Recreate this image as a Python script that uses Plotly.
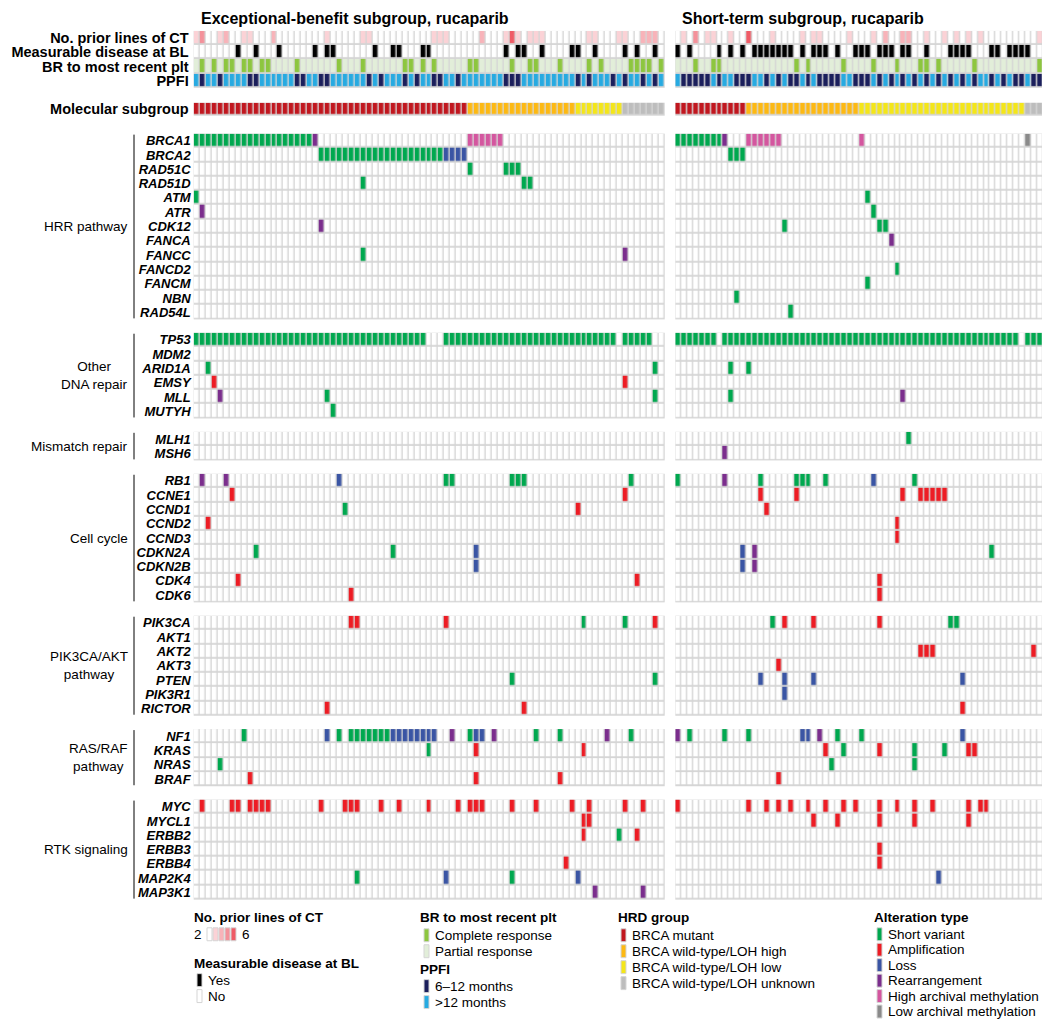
import plotly.graph_objects as go

W, H = 1050, 1019
FONT = "Liberation Sans, Arial, Helvetica, sans-serif"

# ---------------- data ----------------
N_EB = 79   # exceptional-benefit patients
N_ST = 64   # short-term patients

ANNOT_ROWS = ["No. prior lines of CT", "Measurable disease at BL",
              "BR to most recent plt", "PPFI"]

EB_PRIOR_LINES = [3, 5, 2, 2, 3, 4, 2, 2, 3, 3,
                  2, 2, 2, 4, 2, 2, 2, 2, 2, 2,
                  2, 2, 3, 2, 2, 2, 2, 2, 3, 3,
                  2, 2, 2, 2, 2, 2, 2, 2, 2, 2,
                  3, 3, 3, 2, 2, 2, 2, 2, 4, 2,
                  2, 2, 3, 6, 3, 2, 3, 3, 3, 2,
                  2, 2, 2, 2, 2, 2, 3, 3, 2, 2,
                  2, 3, 3, 2, 2, 4, 4, 4, 2]
ST_PRIOR_LINES = [2, 3, 2, 5, 2, 3, 3, 2, 2, 3,
                  2, 2, 6, 2, 2, 2, 3, 2, 2, 2,
                  2, 3, 2, 3, 3, 2, 2, 2, 2, 3,
                  2, 2, 2, 3, 2, 4, 2, 2, 4, 4,
                  2, 2, 3, 2, 2, 3, 2, 3, 2, 3,
                  2, 3, 2, 2, 2, 2, 2, 2, 2, 2,
                  2, 3, 2, 2]

# patients with measurable disease at baseline (column indices)
EB_MEASURABLE = [7, 10, 14, 20, 22, 23, 30, 33, 34, 38, 39, 52, 54, 55, 58, 63, 64, 67, 72, 74, 77]
ST_MEASURABLE = [0, 2, 7, 9, 11, 13, 14, 15, 16, 17, 18, 19, 21, 23, 24, 25, 27, 30, 31, 32,
                 34, 35, 36, 38, 39, 42, 46, 47, 48, 49, 53, 54, 56, 57, 58, 59, 62, 63]

# patients with complete response to most recent platinum (others: partial)
EB_COMPLETE = [1, 3, 5, 6, 8, 9, 11, 12, 17, 24, 28, 35, 36, 38, 40, 46, 47, 53, 56, 57,
               61, 66, 68, 73, 74, 75, 76, 78]
ST_COMPLETE = [3, 6, 7, 20, 22, 28, 33, 37, 41, 42, 44, 50, 61]

# patients with PPFI 6-12 months (others: >12 months)
EB_PPFI_6_12 = [1, 4, 9, 10, 17, 18, 21, 22, 29, 31, 35, 37, 40, 41, 44, 52, 53, 54, 64, 66,
                70, 72, 75, 77]
ST_PPFI_6_12 = [1, 2, 3, 4, 5, 7, 10, 11, 12, 15, 17, 19, 20, 22, 24, 25, 26, 27, 30, 31,
                32, 34, 36, 38, 40, 42, 44, 46, 48, 50, 53, 55, 57, 58, 60, 61, 62, 63]

# molecular subgroup runs (group, number of patients)
EB_HRD = [("BRCA mutant", 46), ("LOH high", 18), ("LOH low", 8), ("LOH unknown", 7)]
ST_HRD = [("BRCA mutant", 12), ("LOH high", 19), ("LOH low", 28), ("LOH unknown", 5)]

SECTIONS = [
    ("HRR pathway", ["BRCA1", "BRCA2", "RAD51C", "RAD51D", "ATM", "ATR", "CDK12", "FANCA",
                     "FANCC", "FANCD2", "FANCM", "NBN", "RAD54L"]),
    ("Other<br>DNA repair", ["TP53", "MDM2", "ARID1A", "EMSY", "MLL", "MUTYH"]),
    ("Mismatch repair", ["MLH1", "MSH6"]),
    ("Cell cycle", ["RB1", "CCNE1", "CCND1", "CCND2", "CCND3", "CDKN2A", "CDKN2B", "CDK4", "CDK6"]),
    ("PIK3CA/AKT<br>pathway", ["PIK3CA", "AKT1", "AKT2", "AKT3", "PTEN", "PIK3R1", "RICTOR"]),
    ("RAS/RAF<br>pathway", ["NF1", "KRAS", "NRAS", "BRAF"]),
    ("RTK signaling", ["MYC", "MYCL1", "ERBB2", "ERBB3", "ERBB4", "MAP2K4", "MAP3K1"]),
]

# alterations: gene -> list of (first column, last column, type)
EB_HRR = {
    "BRCA1": [(0, 19, "SV"), (20, 20, "RE"), (46, 51, "HM")],
    "BRCA2": [(21, 41, "SV"), (42, 45, "LO")],
    "RAD51C": [(46, 46, "SV"), (52, 54, "SV")],
    "RAD51D": [(28, 28, "SV"), (55, 56, "SV")],
    "ATM": [(0, 0, "SV")],
    "ATR": [(1, 1, "RE")],
    "CDK12": [(21, 21, "RE")],
    "FANCC": [(28, 28, "SV"), (72, 72, "RE")],
}
EB_OTHER = {
    "TP53": [(0, 38, "SV"), (42, 70, "SV"), (72, 76, "SV")],
    "ARID1A": [(2, 2, "SV"), (77, 77, "SV")],
    "EMSY": [(3, 3, "AM"), (72, 72, "AM")],
    "MLL": [(4, 4, "RE"), (22, 22, "SV"), (77, 77, "SV")],
    "MUTYH": [(23, 23, "SV")],
}
EB_MMR = {}
EB_CELL = {
    "RB1": [(1, 1, "RE"), (5, 5, "RE"), (24, 24, "LO"), (42, 43, "SV"), (53, 55, "SV"), (73, 73, "SV")],
    "CCNE1": [(6, 6, "AM"), (72, 72, "AM")],
    "CCND1": [(25, 25, "SV"), (64, 64, "AM")],
    "CCND2": [(2, 2, "AM")],
    "CDKN2A": [(10, 10, "SV"), (33, 33, "SV"), (47, 47, "LO")],
    "CDKN2B": [(47, 47, "LO")],
    "CDK4": [(7, 7, "AM"), (74, 74, "AM")],
    "CDK6": [(26, 26, "AM")],
}
EB_PIK = {
    "PIK3CA": [(26, 27, "AM"), (42, 42, "AM"), (65, 65, "SV"), (72, 72, "SV"), (77, 77, "AM")],
    "PTEN": [(53, 53, "SV"), (77, 77, "SV")],
    "RICTOR": [(22, 22, "AM"), (55, 55, "AM")],
}
EB_RAS = {
    "NF1": [(8, 8, "SV"), (22, 22, "LO"), (24, 24, "SV"), (26, 32, "SV"), (33, 40, "LO"),
            (43, 43, "RE"), (46, 46, "SV"), (47, 48, "LO"), (50, 50, "RE"), (57, 57, "SV"),
            (61, 61, "SV"), (69, 69, "RE"), (73, 73, "SV")],
    "KRAS": [(39, 39, "SV"), (47, 47, "AM"), (65, 65, "AM")],
    "NRAS": [(4, 4, "SV")],
    "BRAF": [(9, 9, "AM"), (47, 47, "AM"), (61, 61, "AM")],
}
EB_RTK = {
    "MYC": [(1, 1, "AM"), (6, 7, "AM"), (9, 12, "AM"), (21, 21, "AM"), (25, 27, "AM"),
            (31, 31, "AM"), (34, 34, "AM"), (39, 39, "AM"), (44, 44, "AM"), (46, 48, "AM"),
            (53, 53, "AM"), (57, 57, "AM"), (63, 63, "AM"), (66, 66, "AM"), (72, 72, "AM"),
            (75, 75, "AM")],
    "MYCL1": [(65, 66, "AM")],
    "ERBB2": [(65, 65, "AM"), (71, 71, "SV"), (74, 74, "AM")],
    "ERBB4": [(62, 62, "AM")],
    "MAP2K4": [(27, 27, "SV"), (42, 42, "LO"), (53, 53, "SV"), (64, 64, "LO")],
    "MAP3K1": [(67, 67, "RE"), (75, 75, "RE")],
}

ST_HRR = {
    "BRCA1": [(0, 7, "SV"), (8, 8, "RE"), (12, 17, "HM"), (31, 31, "HM"), (59, 59, "LM")],
    "BRCA2": [(9, 11, "SV")],
    "ATM": [(32, 32, "SV")],
    "ATR": [(33, 33, "SV")],
    "CDK12": [(18, 18, "SV"), (34, 35, "SV")],
    "FANCA": [(36, 36, "RE")],
    "FANCD2": [(37, 37, "SV")],
    "FANCM": [(32, 32, "SV")],
    "NBN": [(10, 10, "SV")],
    "RAD54L": [(19, 19, "SV")],
}
ST_OTHER = {
    "TP53": [(0, 6, "SV"), (8, 57, "SV"), (59, 63, "SV")],
    "ARID1A": [(9, 9, "SV"), (12, 12, "SV")],
    "MLL": [(9, 9, "SV"), (38, 38, "RE")],
}
ST_MMR = {
    "MLH1": [(39, 39, "SV")],
    "MSH6": [(8, 8, "RE")],
}
ST_CELL = {
    "RB1": [(0, 0, "SV"), (8, 8, "RE"), (14, 14, "SV"), (20, 22, "SV"), (25, 25, "SV"),
            (33, 33, "LO"), (40, 40, "SV")],
    "CCNE1": [(14, 14, "AM"), (20, 20, "AM"), (38, 38, "AM"), (41, 45, "AM")],
    "CCND1": [(15, 15, "AM")],
    "CCND2": [(37, 37, "AM")],
    "CCND3": [(37, 37, "AM")],
    "CDKN2A": [(11, 11, "LO"), (13, 13, "RE"), (53, 53, "SV")],
    "CDKN2B": [(11, 11, "LO"), (13, 13, "RE")],
    "CDK4": [(34, 34, "AM")],
    "CDK6": [(34, 34, "AM")],
}
ST_PIK = {
    "PIK3CA": [(16, 16, "SV"), (18, 18, "AM"), (23, 23, "AM"), (34, 34, "AM"), (46, 47, "SV")],
    "AKT2": [(41, 43, "AM"), (60, 60, "AM")],
    "AKT3": [(17, 17, "AM")],
    "PTEN": [(14, 14, "LO"), (18, 18, "LO"), (23, 23, "LO"), (48, 48, "LO")],
    "PIK3R1": [(18, 18, "LO")],
    "RICTOR": [(48, 48, "AM")],
}
ST_RAS = {
    "NF1": [(0, 0, "RE"), (2, 2, "SV"), (8, 8, "SV"), (12, 12, "SV"), (21, 22, "LO"),
            (24, 24, "RE"), (27, 27, "SV"), (31, 31, "SV"), (48, 48, "LO")],
    "KRAS": [(25, 25, "AM"), (28, 28, "SV"), (34, 34, "AM"), (40, 40, "SV"), (45, 45, "SV"),
             (49, 50, "AM")],
    "NRAS": [(26, 26, "SV"), (40, 40, "SV")],
    "BRAF": [(17, 17, "AM")],
}
ST_RTK = {
    "MYC": [(0, 0, "AM"), (12, 12, "AM"), (15, 15, "AM"), (17, 17, "AM"), (19, 19, "AM"),
            (22, 22, "AM"), (25, 25, "AM"), (28, 28, "AM"), (30, 30, "AM"), (34, 34, "AM"),
            (37, 37, "AM"), (40, 40, "AM"), (43, 43, "AM"), (49, 49, "AM"), (51, 52, "AM")],
    "MYCL1": [(23, 23, "AM"), (27, 27, "AM"), (34, 34, "AM"), (40, 40, "AM"), (49, 49, "AM")],
    "ERBB3": [(34, 34, "AM")],
    "ERBB4": [(34, 34, "AM")],
    "MAP2K4": [(44, 44, "LO")],
}

EB_SECTIONS = [EB_HRR, EB_OTHER, EB_MMR, EB_CELL, EB_PIK, EB_RAS, EB_RTK]
ST_SECTIONS = [ST_HRR, ST_OTHER, ST_MMR, ST_CELL, ST_PIK, ST_RAS, ST_RTK]

# ---------------- styles ----------------
COLORS = {
    "none": "#ffffff",
    "L3": "#fbd2d6", "L4": "#f8b3b9", "L5": "#f4919a", "L6": "#ef5b66",
    "yes": "#000000",
    "CR": "#8dc63f", "PR": "#e2eed9",
    "P612": "#1b1f5c", "P12": "#27aae1",
    "BRCA mutant": "#c1171f", "LOH high": "#fdb913", "LOH low": "#f4e619", "LOH unknown": "#bdbdbd",
    "SV": "#00a84f", "AM": "#ed1c24", "LO": "#3a55a4", "RE": "#7b2e8d", "HM": "#d4569f", "LM": "#8a8a8a",
}
KEYS = list(COLORS.keys())
CODE = {k: i for i, k in enumerate(KEYS)}
NC = len(KEYS)
CSCALE = []
for i, k in enumerate(KEYS):
    CSCALE.append([i / NC, COLORS[k]])
    CSCALE.append([(i + 1) / NC, COLORS[k]])

GRID = "#d5d5d5"

# geometry (pixels)
PANEL_X = [(185.7, 656.7), (667.3, 1047.0)]
ANNOT_TOP, ANNOT_PITCH = 22.0, 14.25
MOL_TOP, MOL_BOT = 94.0, 107.0
GENE_TOP, ROW_PITCH, SEC_GAP = 125.0, 14.33, 13.4
BRACKET_X = 126
SECTION_LABEL_X = 122


def px(x):
    return x / W


def py(y):
    return 1 - y / H


def annot_matrix(prior, meas, comp, ppfi, n):
    r0 = [CODE["none"] if v == 2 else CODE["L%d" % v] for v in prior]
    r1 = [CODE["yes"] if c in meas else CODE["none"] for c in range(n)]
    r2 = [CODE["CR"] if c in comp else CODE["PR"] for c in range(n)]
    r3 = [CODE["P612"] if c in ppfi else CODE["P12"] for c in range(n)]
    return [r0, r1, r2, r3]


def hrd_row(runs):
    row = []
    for grp, cnt in runs:
        row += [CODE[grp]] * cnt
    return [row]


def gene_matrix(genes, alts, n):
    z = [[CODE["none"]] * n for _ in genes]
    for r, g in enumerate(genes):
        for a, b, t in alts.get(g, []):
            for c in range(a, b + 1):
                z[r][c] = CODE[t]
    return z


fig = go.Figure()
layout = {}
shapes = []
annotations = []
ax = [0]


def add_block(panel, z, labels, ytop, ybot, label_font, standoff):
    ax[0] += 1
    k = ax[0]
    sx = "" if k == 1 else str(k)
    n = len(z[0])
    nr = len(z)
    fig.add_trace(go.Heatmap(
        z=z, x=list(range(n)), y=list(range(nr)),
        colorscale=CSCALE, zmin=-0.5, zmax=NC - 0.5, showscale=False,
        xgap=1.4, ygap=1.8, hoverinfo="skip",
        xaxis="x" + sx, yaxis="y" + sx))
    x0, x1 = PANEL_X[panel]
    layout["xaxis" + sx] = dict(domain=[px(x0), px(x1)], range=[-0.5, n - 0.5],
                                visible=False, anchor="y" + sx, fixedrange=True)
    layout["yaxis" + sx] = dict(domain=[py(ybot), py(ytop)], range=[nr - 0.5, -0.5],
                                anchor="x" + sx, showgrid=False, zeroline=False,
                                showline=False, ticks="", fixedrange=True,
                                tickvals=list(range(nr)), ticktext=labels,
                                showticklabels=(panel == 0), tickfont=label_font,
                                ticklabelstandoff=standoff)


for panel, (n, prior, meas, comp, ppfi, hrd, secs) in enumerate([
        (N_EB, EB_PRIOR_LINES, EB_MEASURABLE, EB_COMPLETE, EB_PPFI_6_12, EB_HRD, EB_SECTIONS),
        (N_ST, ST_PRIOR_LINES, ST_MEASURABLE, ST_COMPLETE, ST_PPFI_6_12, ST_HRD, ST_SECTIONS)]):
    bold_font = dict(family=FONT, size=14.5, color="black")
    add_block(panel, annot_matrix(prior, meas, comp, ppfi, n),
              ["<b>%s</b>" % t for t in ANNOT_ROWS],
              ANNOT_TOP, ANNOT_TOP + 4 * ANNOT_PITCH, bold_font, 4)
    add_block(panel, hrd_row(hrd), ["<b>Molecular subgroup</b>"], MOL_TOP, MOL_BOT, bold_font, 4)
    y = GENE_TOP
    for (sec_name, genes), alts in zip(SECTIONS, secs):
        y2 = y + len(genes) * ROW_PITCH
        add_block(panel, gene_matrix(genes, alts, n),
                  ["<b><i>%s</i></b>" % g for g in genes], y, y2,
                  dict(family=FONT, size=13, color="black"), 2)
        if panel == 0:
            shapes.append(dict(type="line", xref="paper", yref="paper",
                               x0=px(BRACKET_X), x1=px(BRACKET_X), y0=py(y + 1), y1=py(y2 - 1),
                               line=dict(color="black", width=1)))
            annotations.append(dict(text=sec_name, xref="paper", yref="paper",
                                    x=px(SECTION_LABEL_X), y=py((y + y2) / 2), xanchor="right",
                                    yanchor="middle", align="center", showarrow=False,
                                    font=dict(family=FONT, size=13.5, color="black")))
        y = y2 + SEC_GAP

# titles
annotations.append(dict(text="<b>Exceptional-benefit subgroup, rucaparib</b>", xref="paper",
                        yref="paper", x=px(191), y=py(10), xanchor="left", yanchor="middle",
                        showarrow=False, font=dict(family=FONT, size=16, color="black")))
annotations.append(dict(text="<b>Short-term subgroup, rucaparib</b>", xref="paper",
                        yref="paper", x=px(672), y=py(10), xanchor="left", yanchor="middle",
                        showarrow=False, font=dict(family=FONT, size=16, color="black")))

# ---------------- legend ----------------
LEG_FONT = dict(family=FONT, size=13.5, color="black")
LEG_BOLD = dict(family=FONT, size=13.5, color="black")


def leg_title(text, x, y):
    annotations.append(dict(text="<b>%s</b>" % text, xref="paper", yref="paper", x=px(x),
                            y=py(y), xanchor="left", yanchor="middle", showarrow=False,
                            font=LEG_BOLD))


def leg_item(color, text, x, y):
    shapes.append(dict(type="rect", xref="paper", yref="paper", x0=px(x), x1=px(x + 5),
                       y0=py(y + 6.5), y1=py(y - 6.5), fillcolor=color,
                       line=dict(color=GRID, width=1)))
    annotations.append(dict(text=text, xref="paper", yref="paper", x=px(x + 9), y=py(y),
                            xanchor="left", yanchor="middle", showarrow=False, font=LEG_FONT))


leg_title("No. prior lines of CT", 184, 911)
annotations.append(dict(text="2", xref="paper", yref="paper", x=px(196), y=py(928),
                        xanchor="right", yanchor="middle", showarrow=False, font=LEG_FONT))
for i, k in enumerate(["none", "L3", "L4", "L5", "L6"]):
    shapes.append(dict(type="rect", xref="paper", yref="paper", x0=px(199 + 6 * i),
                       x1=px(204 + 6 * i), y0=py(934.5), y1=py(921.5), fillcolor=COLORS[k],
                       line=dict(color=GRID, width=1)))
annotations.append(dict(text="6", xref="paper", yref="paper", x=px(232), y=py(928),
                        xanchor="left", yanchor="middle", showarrow=False, font=LEG_FONT))
leg_title("Measurable disease at BL", 184, 957)
leg_item(COLORS["yes"], "Yes", 189, 974)
leg_item(COLORS["none"], "No", 189, 990)

leg_title("BR to most recent plt", 410, 911)
leg_item(COLORS["CR"], "Complete response", 416, 929)
leg_item(COLORS["PR"], "Partial response", 416, 945)
leg_title("PPFI", 410, 963)
leg_item(COLORS["P612"], "6\u201312 months", 416, 980)
leg_item(COLORS["P12"], ">12 months", 416, 996)

leg_title("HRD group", 608, 911)
leg_item(COLORS["BRCA mutant"], "BRCA mutant", 613, 929)
leg_item(COLORS["LOH high"], "BRCA wild-type/LOH high", 613, 945)
leg_item(COLORS["LOH low"], "BRCA wild-type/LOH low", 613, 961)
leg_item(COLORS["LOH unknown"], "BRCA wild-type/LOH unknown", 613, 977)

leg_title("Alteration type", 864, 911)
leg_item(COLORS["SV"], "Short variant", 869, 928)
leg_item(COLORS["AM"], "Amplification", 869, 943.5)
leg_item(COLORS["LO"], "Loss", 869, 959)
leg_item(COLORS["RE"], "Rearrangement", 869, 974.5)
leg_item(COLORS["HM"], "High archival methylation", 869, 990)
leg_item(COLORS["LM"], "Low archival methylation", 869, 1005.5)

fig.update_layout(**layout)
fig.update_layout(width=W, height=H, autosize=False,
                  margin=dict(l=0, r=0, t=0, b=0),
                  paper_bgcolor="white", plot_bgcolor=GRID,
                  font=dict(family=FONT, size=12, color="black"),
                  shapes=shapes, annotations=annotations, showlegend=False)

fig.write_html("out.html")
